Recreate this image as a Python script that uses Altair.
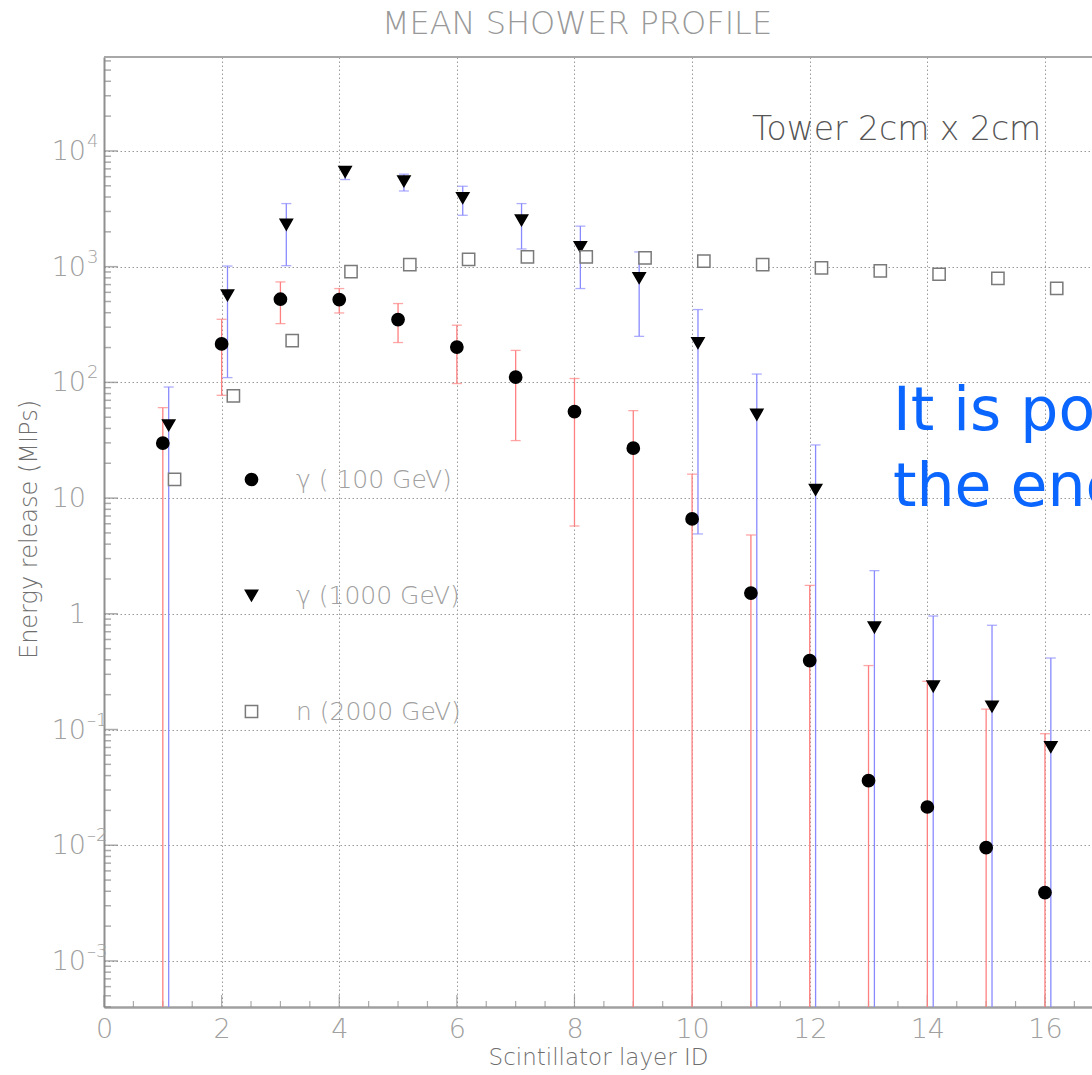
import altair as alt
import numpy as np
import pandas as pd

# ---- data -----------------------------------------------------------------
layers = list(range(1, 17))

series_names = ["γ ( 100 GeV)", "γ (1000 GeV)", "n (2000 GeV)"]
layer_shift = [0.0, 0.1, 0.2]          # small horizontal stagger per series

# gamma 100 GeV: mean and error bar ends (None = bar runs down to the axis)
g100 = [29.8, 215, 523, 520, 349, 202, 111, 56, 27, 6.6, 1.51, 0.394,
        0.0361, 0.0214, 0.00953, 0.0039]
g100_hi = [60.5, 351, 738, 647, 480, 312, 189, 108, 57, 16.1, 4.8, 1.76,
           0.357, 0.261, 0.150, 0.092]
g100_lo = [None, 77.3, 322, 398, 221, 97.7, 31.4, 5.74, None, None, None,
           None, None, None, None, None]

# gamma 1000 GeV
g1000 = [42.6, 566, 2311, 6590, 5470, 3925, 2518, 1480, 798, 219, 52.7,
         11.8, 0.764, 0.236, 0.158, 0.0706]
g1000_hi = [91.2, 1013, 3510, 7130, 6300, 4955, 3510, 2240, 1340, 426, 118,
            28.8, 2.36, 0.957, 0.796, 0.415]
g1000_lo = [None, 110, 1020, 5660, 4510, 2780, 1422, 647, 250, 4.9, None,
            None, None, None, None, None]

# neutron 2000 GeV
n2000 = [14.5, 76.3, 230, 907, 1042, 1159, 1213, 1213, 1189, 1119, 1042,
         975, 918, 860, 794, 650]

decades = [1e-3, 1e-2, 1e-1, 1, 10, 1e2, 1e3, 1e4]
decade_base = ["10", "10", "10", "1", "10", "10", "10", "10"]
decade_exp = ["–3", "–2", "–1", "", "", "2", "3", "4"]
x_label_values = [0, 2, 4, 6, 8, 10, 12, 14, 16]

# ---- axis ranges ----------------------------------------------------------
X_MAX = 16.8
Y_MIN = 10 ** -3.398
Y_MAX = 10 ** 4.812
W, H = 988, 950

GRAY_TXT = "#a0a0a0"
GRID = "#9a9a9a"
FONT = "DejaVu Sans"
LIGHT = 200

rows = []
for name, shift, vals, his, los in [
    (series_names[0], layer_shift[0], g100, g100_hi, g100_lo),
    (series_names[1], layer_shift[1], g1000, g1000_hi, g1000_lo),
    (series_names[2], layer_shift[2], n2000, [None] * 16, [None] * 16),
]:
    for L, v, hi, lo in zip(layers, vals, his, los):
        rows.append({"series": name, "xpos": L + shift, "value": v,
                     "hi": hi, "lo": lo})
pts = pd.DataFrame(rows)

bars = pts[pts["hi"].notna()].copy()
bars["lo_draw"] = bars["lo"].fillna(Y_MIN)

caps = pd.concat([
    bars[["series", "xpos", "hi"]].rename(columns={"hi": "y"}),
    bars[bars["lo"].notna()][["series", "xpos", "lo"]].rename(columns={"lo": "y"}),
])

# inward minor/major ticks on the left and bottom frame
left_ticks = [k * 10.0 ** d for d in range(-4, 5) for k in range(1, 10)
              if Y_MIN <= k * 10.0 ** d <= Y_MAX]
lt = pd.DataFrame({"v": left_ticks})
lt["major"] = [abs(np.log10(v) - round(np.log10(v))) < 1e-9 for v in left_ticks]
bt = pd.DataFrame({"v": np.arange(0, X_MAX, 0.5)})
bt["major"] = (bt["v"] % 2 == 0)

ylab = pd.DataFrame({"v": decades, "base": decade_base, "exp": decade_exp})
one_row = pd.DataFrame({"k": [0]})   # single datum for free-standing text

# ---- shared scales / axes -------------------------------------------------
xscale = alt.Scale(domain=[0, X_MAX], nice=False, zero=False)
yscale = alt.Scale(type="log", domain=[Y_MIN, Y_MAX], nice=False)

xaxis = alt.Axis(values=x_label_values, grid=True, gridDash=[1.5, 2.5],
                 gridColor=GRID, gridWidth=1, ticks=False,
                 domainColor="#a0a0a0", domainWidth=2.5,
                 labelFont=FONT, labelFontSize=27, labelFontWeight=LIGHT,
                 labelColor=GRAY_TXT, labelPadding=9, labelFlush=False,
                 labelOverlap=False,
                 title="Scintillator layer ID", titleFont=FONT,
                 titleFontSize=23, titleFontWeight=LIGHT, titleColor="#6e6e6e",
                 titlePadding=4)
yaxis = alt.Axis(values=decades, grid=True, gridDash=[1.5, 2.5],
                 gridColor=GRID, gridWidth=1, ticks=False, labels=False,
                 domainColor="#909090", domainWidth=2,
                 title="Energy release (MIPs)", titleFont=FONT,
                 titleFontSize=24, titleFontWeight=LIGHT, titleColor="#6e6e6e",
                 titleX=-63, titleY=472, titleBaseline="bottom")


def X(field):
    return alt.X(field, scale=xscale, axis=xaxis)


def Y(field):
    return alt.Y(field, scale=yscale, axis=yaxis)


bar_color = alt.Color("series:N", legend=None,
                      scale=alt.Scale(domain=series_names[:2],
                                      range=["#ff8080", "#8a8aff"]))

top_line = alt.Chart(one_row).mark_rule(color="#a8a8a8", strokeWidth=2).encode(
    x=alt.value(0), x2=alt.value(W), y=alt.value(0))

lt_major = alt.Chart(lt[lt["major"]]).mark_tick(
    orient="horizontal", color="#888888", thickness=1.5, size=14).encode(
    y=Y("v:Q"), x=alt.value(7))
lt_minor = alt.Chart(lt[~lt["major"]]).mark_tick(
    orient="horizontal", color="#888888", thickness=1.5, size=7).encode(
    y=Y("v:Q"), x=alt.value(3.5))
bt_major = alt.Chart(bt[bt["major"]]).mark_tick(
    orient="vertical", color="#888888", thickness=1.2, size=12).encode(
    x=X("v:Q"), y=alt.value(H - 6))
bt_minor = alt.Chart(bt[~bt["major"]]).mark_tick(
    orient="vertical", color="#888888", thickness=1.2, size=6).encode(
    x=X("v:Q"), y=alt.value(H - 3))

ylab_base = alt.Chart(ylab).mark_text(
    align="right", baseline="alphabetic", font=FONT, fontSize=27,
    fontWeight=LIGHT, color=GRAY_TXT, dx=-18, dy=9).encode(
    y=Y("v:Q"), x=alt.value(0), text="base:N")
ylab_exp = alt.Chart(ylab).mark_text(
    align="left", baseline="alphabetic", font=FONT, fontSize=18,
    fontWeight=LIGHT, color=GRAY_TXT, dx=-17, dy=-4).encode(
    y=Y("v:Q"), x=alt.value(0), text="exp:N")

err_rules = alt.Chart(bars).mark_rule(strokeWidth=1.3).encode(
    x=X("xpos:Q"), y=Y("hi:Q"), y2="lo_draw:Q", color=bar_color)
err_caps = alt.Chart(caps).mark_tick(orient="horizontal", size=10,
                                     thickness=1.3).encode(
    x=X("xpos:Q"), y=Y("y:Q"), color=bar_color)

legend = alt.Legend(title=None, orient="none", legendX=135, legendY=410,
                    direction="vertical", rowPadding=90, symbolSize=150,
                    symbolStrokeWidth=1.5, labelFont=FONT, labelFontSize=25,
                    labelFontWeight=LIGHT, labelColor=GRAY_TXT, labelOffset=32,
                    labelLimit=400, padding=0)
markers = alt.Chart(pts).mark_point(size=150, strokeWidth=1.5,
                                    opacity=1).encode(
    x=X("xpos:Q"),
    y=Y("value:Q"),
    shape=alt.Shape("series:N", legend=legend,
                    scale=alt.Scale(domain=series_names,
                                    range=["circle", "triangle-down", "square"])),
    fill=alt.Fill("series:N", legend=legend,
                  scale=alt.Scale(domain=series_names,
                                  range=["#000000", "#000000", "#ffffff"])),
    stroke=alt.Stroke("series:N", legend=legend,
                      scale=alt.Scale(domain=series_names,
                                      range=["#000000", "#000000", "#7a7a7a"])),
)

title = alt.Chart(one_row).mark_text(
    text="MEAN SHOWER PROFILE", align="center", baseline="alphabetic",
    font=FONT, fontSize=32, fontWeight=LIGHT, color="#999999").encode(
    x=alt.value(473), y=alt.value(-23))

tower = alt.Chart(one_row).mark_text(
    text="Tower 2cm x 2cm", align="left", baseline="alphabetic", font=FONT,
    fontSize=33, fontWeight=LIGHT, color="#555555").encode(
    x=alt.value(648), y=alt.value(83))

note = alt.Chart(one_row).mark_text(
    text=["It is po", "the ene"], align="left", baseline="alphabetic",
    font="DejaVu Sans", fontSize=60, lineHeight=76, color="#0a66ff").encode(
    x=alt.value(789), y=alt.value(373))

chart = alt.layer(
    top_line, lt_major, lt_minor, bt_major, bt_minor,
    ylab_base, ylab_exp, err_rules, err_caps, markers, title, tower, note,
).resolve_scale(color="independent").properties(
    width=W, height=H,
    autosize=alt.AutoSizeParams(type="none"),
    padding={"left": 104, "top": 57, "right": 0, "bottom": 64},
).configure_view(stroke=None).configure(background="white")

chart.save("out.html", embed_options={"renderer": "svg", "actions": False})
